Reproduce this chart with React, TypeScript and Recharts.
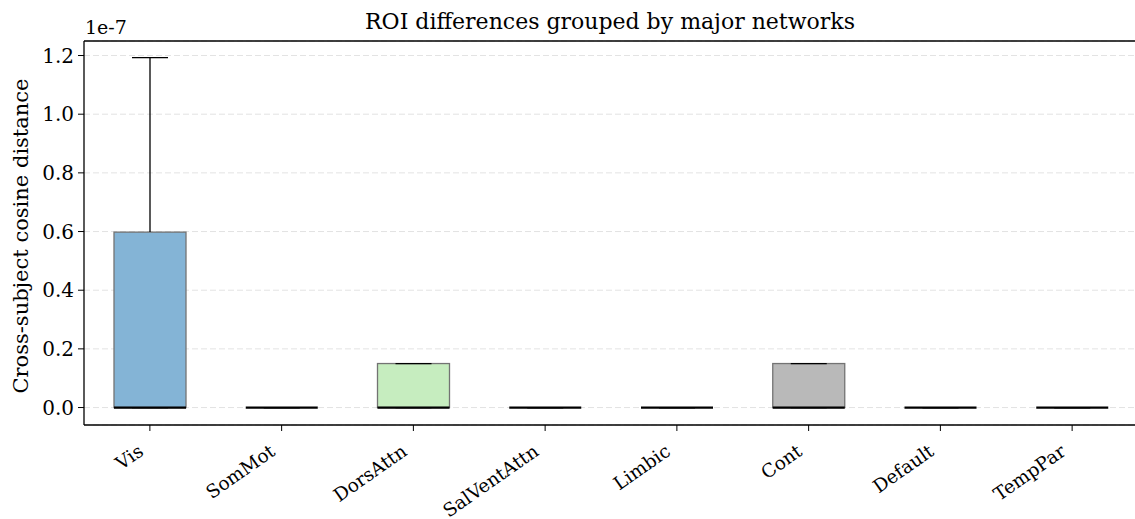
import { ComposedChart, Bar, XAxis, YAxis, CartesianGrid } from 'recharts';

const FONT = '"DejaVu Serif", serif';

const categories = ['Vis', 'SomMot', 'DorsAttn', 'SalVentAttn', 'Limbic', 'Cont', 'Default', 'TempPar'];
const whiskerLow = [0, 0, 0, 0, 0, 0, 0, 0];
const q1 = [0, 0, 0, 0, 0, 0, 0, 0];
const medians = [0, 0, 0, 0, 0, 0, 0, 0];
const q3 = [0.598e-7, 0, 0.15e-7, 0, 0, 0.15e-7, 0, 0];
const whiskerHigh = [1.193e-7, 0, 0.15e-7, 0, 0, 0.15e-7, 0, 0];
const boxColors = ['#84b4d6', '#ffc995', '#c6edbf', '#f5a3a3', '#d4c3e3', '#b9b9b9', '#f0b8dd', '#e5e59a'];
const yTicks = [0, 0.2e-7, 0.4e-7, 0.6e-7, 0.8e-7, 1.0e-7, 1.2e-7];

const data = categories.map((name, i) => ({
  name,
  range: [whiskerLow[i], whiskerHigh[i]],
  lo: whiskerLow[i],
  q1: q1[i],
  med: medians[i],
  q3: q3[i],
  hi: whiskerHigh[i],
  color: boxColors[i],
}));

function BoxShape(props: any) {
  const { x, y, width, height, payload } = props;
  const top = Math.min(y, y + height);
  const h = Math.abs(height);
  const { lo, hi } = payload;
  const toY = (v: number) => (hi === lo ? top : top + ((hi - v) / (hi - lo)) * h);
  const cx = x + width / 2;
  const capW = width / 2;
  const yq1 = toY(payload.q1);
  const yq3 = toY(payload.q3);
  return (
    <g>
      {yq1 - yq3 > 0 && (
        <rect x={x} y={yq3} width={width} height={yq1 - yq3} fill={payload.color} stroke="#737373" strokeWidth={1.3} />
      )}
      {hi > payload.q3 && <line x1={cx} x2={cx} y1={yq3} y2={toY(hi)} stroke="#000" strokeWidth={1.3} />}
      {lo < payload.q1 && <line x1={cx} x2={cx} y1={yq1} y2={toY(lo)} stroke="#000" strokeWidth={1.3} />}
      <line x1={cx - capW / 2} x2={cx + capW / 2} y1={toY(hi)} y2={toY(hi)} stroke="#000" strokeWidth={1.3} />
      <line x1={cx - capW / 2} x2={cx + capW / 2} y1={toY(lo)} y2={toY(lo)} stroke="#000" strokeWidth={1.3} />
      <line x1={x} x2={x + width} y1={toY(payload.med)} y2={toY(payload.med)} stroke="#000" strokeWidth={2.2} />
    </g>
  );
}

function XTick(props: any) {
  const { x, y, payload } = props;
  const tx = x - 13;
  const ty = y + 10;
  return (
    <text
      x={tx}
      y={ty}
      transform={`rotate(-35, ${tx}, ${ty})`}
      textAnchor="end"
      dominantBaseline="hanging"
      fontFamily={FONT}
      fontSize={18.5}
      fill="#000"
    >
      {payload.value}
    </text>
  );
}

export default function App() {
  return (
    <div style={{ position: 'absolute', left: 0, top: 0, width: 1135, height: 519, overflow: 'hidden', background: '#fff' }}>
      <ComposedChart width={1138} height={519} data={data} margin={{ top: 40, right: 0, bottom: 0, left: 4 }}>
        <CartesianGrid vertical={false} stroke="#e3e3e3" strokeDasharray="6 3" />
        <XAxis
          dataKey="name"
          tick={<XTick />}
          tickSize={6}
          tickLine={{ stroke: '#000' }}
          axisLine={{ stroke: '#000', strokeWidth: 1.3 }}
          interval={0}
          height={94}
        />
        <XAxis xAxisId="top" dataKey="name" orientation="top" tick={false} tickLine={false} axisLine={{ stroke: '#000', strokeWidth: 1.3 }} height={1} />
        <YAxis
          width={80}
          domain={[-0.0595e-7, 1.2495e-7]}
          ticks={yTicks}
          allowDataOverflow
          tickFormatter={(v: number) => (v / 1e-7).toFixed(1)}
          tick={{ fill: '#000', fontSize: 20, fontFamily: FONT }}
          tickSize={6}
          tickMargin={4}
          tickLine={{ stroke: '#000' }}
          axisLine={{ stroke: '#000', strokeWidth: 1.3 }}
        />
        <Bar dataKey="range" barSize={72} shape={<BoxShape />} isAnimationActive={false} />
      </ComposedChart>
      <svg width={1135} height={519} style={{ position: 'absolute', left: 0, top: 0, pointerEvents: 'none' }}>
        <text x={610} y={29} textAnchor="middle" fontFamily={FONT} fontSize={22} fill="#000">
          ROI differences grouped by major networks
        </text>
        <text x={85} y={34} fontFamily={FONT} fontSize={19} fill="#000">
          1e-7
        </text>
        <text
          x={28}
          y={236}
          transform="rotate(-90, 28, 236)"
          textAnchor="middle"
          fontFamily={FONT}
          fontSize={21}
          fill="#000"
        >
          Cross-subject cosine distance
        </text>
      </svg>
    </div>
  );
}
